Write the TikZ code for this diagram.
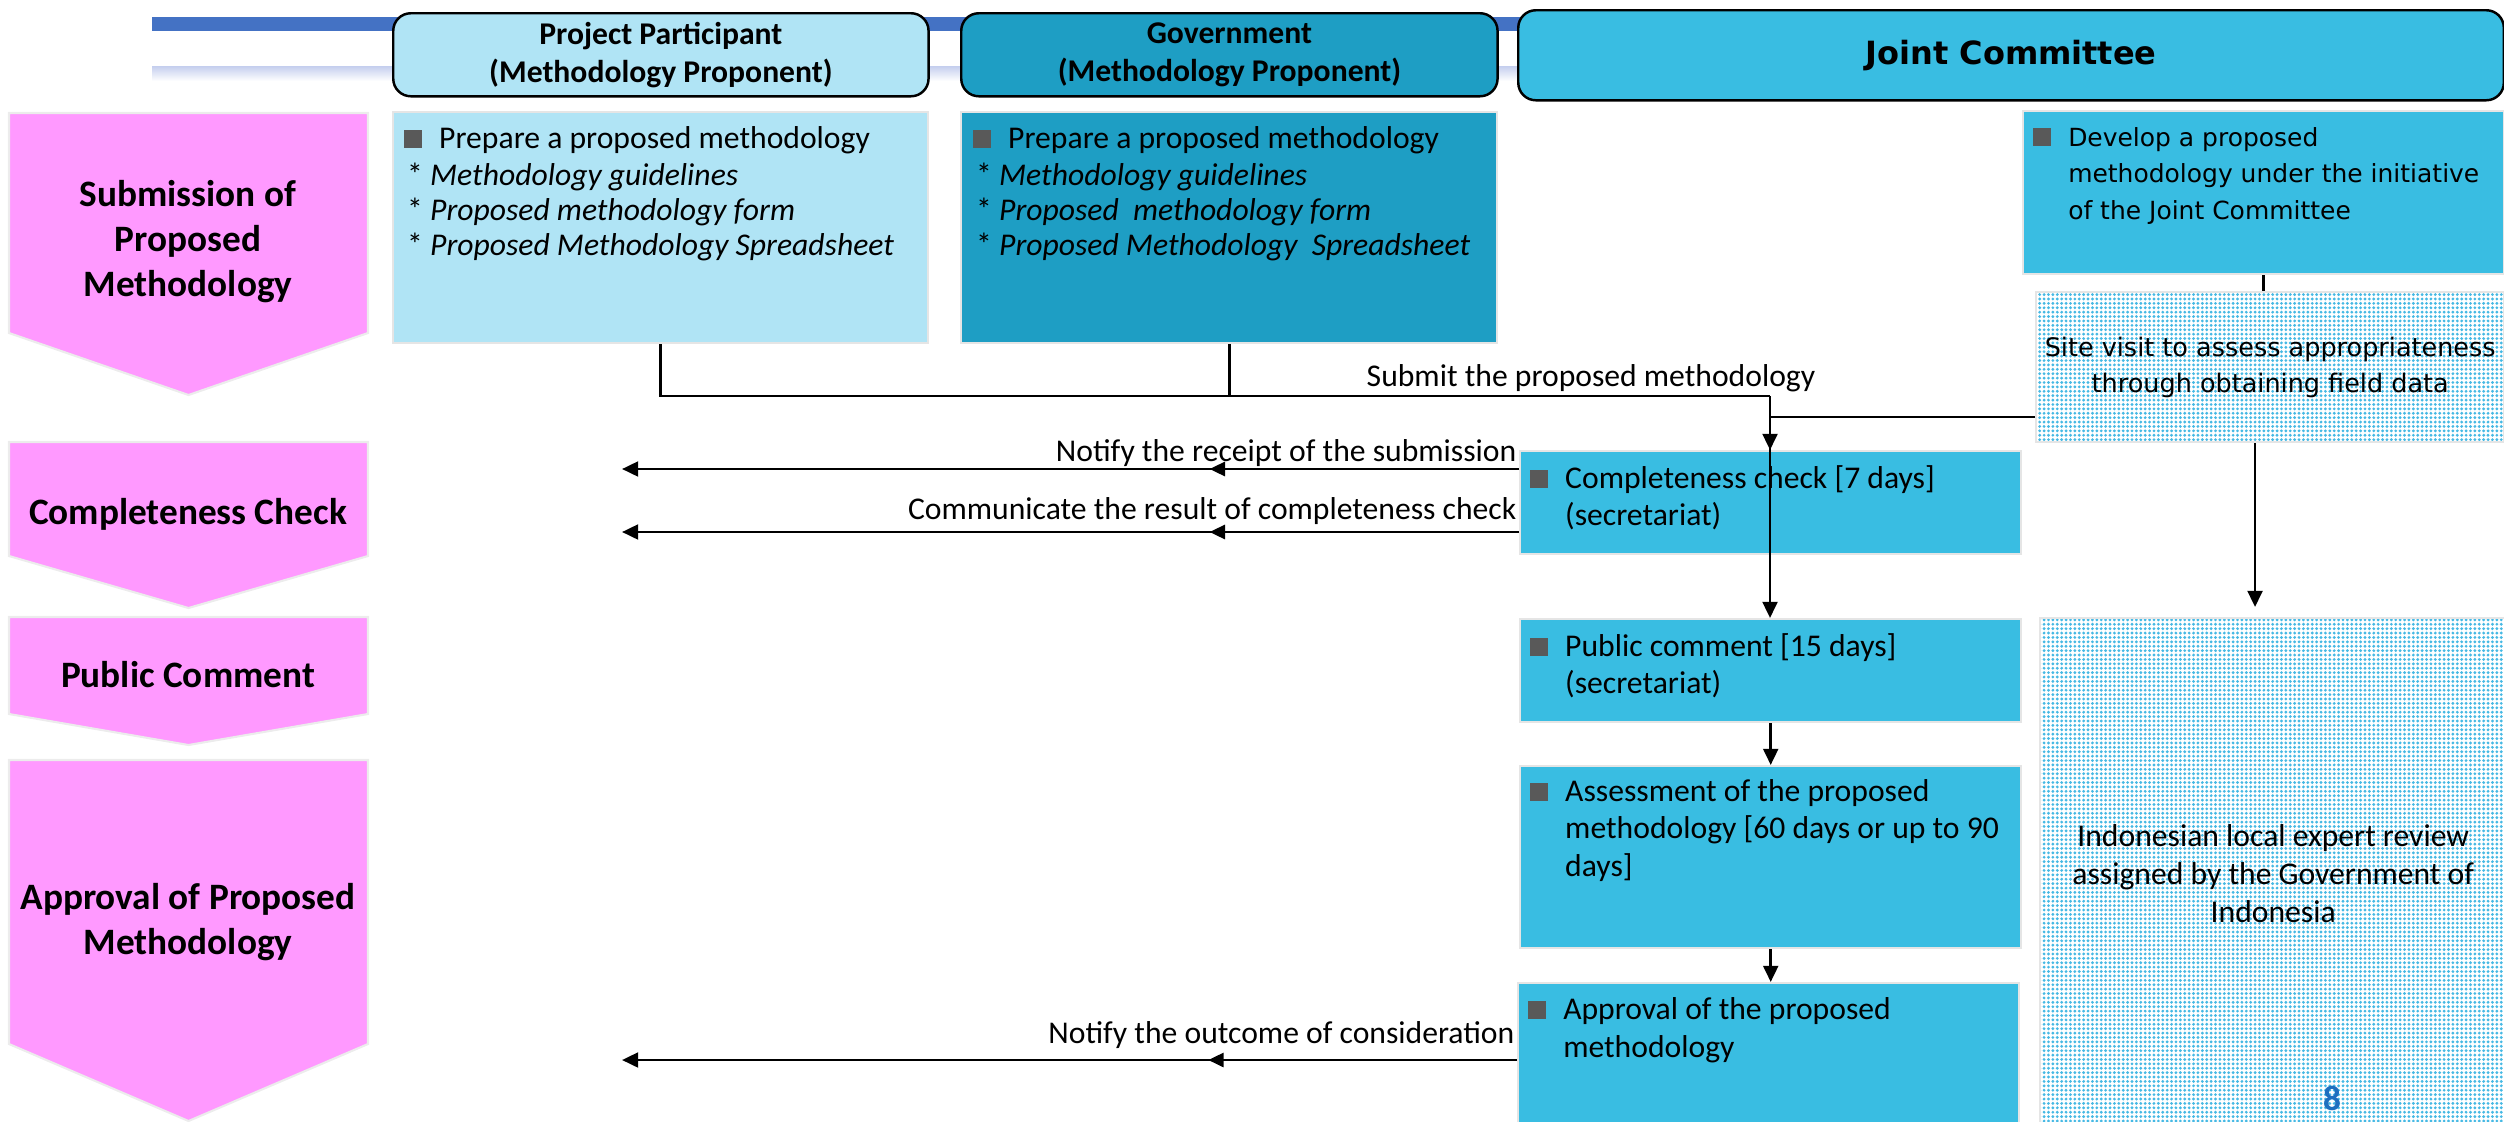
\documentclass[tikz,border=0pt]{standalone}
\usepackage{fontspec}
\setmainfont{Carlito}
\newfontfamily\widesans{DejaVu Sans}
\usetikzlibrary{arrows.meta,patterns,decorations.markings,positioning}

\definecolor{ppblue}{RGB}{176,228,245}
\definecolor{govblue}{RGB}{30,158,196}
\definecolor{jcblue}{RGB}{57,189,226}
\definecolor{stagepink}{RGB}{255,153,255}
\definecolor{barblue}{RGB}{68,114,196}
\definecolor{barlight}{RGB}{196,206,238}
\definecolor{bulletgrey}{RGB}{89,89,89}
\definecolor{dotblue}{RGB}{70,185,228}
\definecolor{pagenum}{RGB}{31,111,191}

\pgfdeclarepatternformonly{finedots}{\pgfqpoint{-0.5pt}{-0.5pt}}{\pgfqpoint{0.5pt}{0.5pt}}{\pgfqpoint{1.25pt}{1.25pt}}{\pgfpathcircle{\pgfqpoint{0pt}{0pt}}{0.45pt}\pgfusepath{fill}}

\newcommand{\sq}{\textcolor{bulletgrey}{\rule{5.1pt}{5.1pt}}\hspace{5pt}}

\tikzset{
  lanehead/.style={draw=black, line width=0.7pt, rounded corners=5pt, anchor=north west,
    font=\bfseries\fontsize{9}{10.8}\selectfont, align=center, inner sep=0pt},
  lanebox/.style={draw=gray!20, line width=0.6pt, inner sep=0pt, anchor=north west},
  dotbox/.style={lanebox, preaction={fill=white}, pattern=finedots, pattern color=dotblue},
  stageshape/.style={fill=stagepink, draw=gray!15, line width=0.6pt},
  stagelbl/.style={font=\bfseries\fontsize{10.6}{12.8}\selectfont, align=center},
  boxtext/.style={anchor=base west, inner sep=0pt, font=\fontsize{9}{10.8}\selectfont},
  msgtext/.style={anchor=base east, inner sep=0pt, font=\fontsize{9}{10.8}\selectfont},
  conn/.style={line width=0.8pt},
  arrowed/.style={conn, -{Triangle[length=4.6pt,width=4.2pt]}},
  midtip/.style={postaction={decorate}, decoration={markings,
    mark=at position #1 with {\arrow{Triangle[length=4.4pt,width=4pt]}}}}
}

\begin{document}
\begin{tikzpicture}[x=0.01cm,y=-0.01cm]
\useasboundingbox (0,0) rectangle (2504,1121);

% title bars
\fill[barblue] (152,17) rectangle (2460,31);
\shade[top color=barlight, bottom color=white] (152,66) rectangle (2460,81);

% lane headers
\node[lanehead, fill=ppblue, minimum width=5.35cm, minimum height=0.83cm] (ppHead) at (392,12) {Project Participant\\(Methodology Proponent)};
\node[lanehead, fill=govblue, minimum width=5.36cm, minimum height=0.83cm] (govHead) at (960,12) {Government\\(Methodology Proponent)};
\node[lanehead, fill=jcblue, minimum width=9.85cm, minimum height=0.9cm, font=\widesans\bfseries\fontsize{9.1}{11}\selectfont] (jcHead) at (1517,9) {Joint Committee};

% stages
\draw[stageshape] (9,113) -- (368,113) -- (368,333) -- (188.5,395) -- (9,333) -- cycle;
\node[stagelbl] (subStage) at (188,242) {Submission of\\Proposed\\Methodology};
\draw[stageshape] (9,442) -- (368,442) -- (368,556) -- (188.5,608) -- (9,556) -- cycle;
\node[stagelbl] (chkStage) at (188,514) {Completeness Check};
\draw[stageshape] (9,617) -- (368,617) -- (368,714) -- (188.5,745) -- (9,714) -- cycle;
\node[stagelbl] (pubStage) at (188,675) {Public Comment};
\draw[stageshape] (9,760) -- (368,760) -- (368,1044) -- (188.5,1121) -- (9,1044) -- cycle;
\node[stagelbl] (aprStage) at (188,922) {Approval of Proposed\\Methodology};

% boxes
\node[lanebox, fill=ppblue, minimum width=5.35cm, minimum height=2.31cm] (ppBox) at (392,111) {};
\node[lanebox, fill=govblue, minimum width=5.36cm, minimum height=2.31cm] (govBox) at (960,111) {};
\node[lanebox, fill=jcblue, minimum width=4.81cm, minimum height=1.63cm] (devBox) at (2022,110) {};
\node[dotbox, minimum width=4.68cm, minimum height=1.5cm] (siteBox) at (2035,291) {};
\node[lanebox, fill=jcblue, minimum width=5.01cm, minimum height=1.03cm] (ccBox) at (1519,450) {};
\node[lanebox, fill=jcblue, minimum width=5.01cm, minimum height=1.03cm] (pcBox) at (1519,618) {};
\node[lanebox, fill=jcblue, minimum width=5.01cm, minimum height=1.82cm] (asBox) at (1519,765) {};
\node[lanebox, fill=jcblue, minimum width=5.01cm, minimum height=1.5cm] (apBox) at (1517,982) {};
\node[dotbox, minimum width=4.66cm, minimum height=5.1cm] (expBox) at (2039,617) {};

% box texts
\node[boxtext] (ppText) at (403,148) {\parbox[t]{5.1cm}{\fontsize{9}{10}\selectfont\sq Prepare a proposed methodology\\[0.6pt]
  \hspace*{1pt}* \textit{Methodology guidelines}\\
  \hspace*{1pt}* \textit{Proposed methodology form}\\
  \hspace*{1pt}* \textit{Proposed Methodology Spreadsheet}}};
\node[boxtext] (govText) at (972,148) {\parbox[t]{5.1cm}{\fontsize{9}{10}\selectfont\sq Prepare a proposed methodology\\[0.6pt]
  \hspace*{1pt}* \textit{Methodology guidelines}\\
  \hspace*{1pt}* \textit{Proposed\ \ methodology form}\\
  \hspace*{1pt}* \textit{Proposed Methodology\ \ Spreadsheet}}};
\node[boxtext, font=\widesans\fontsize{7.1}{10.5}\selectfont] (devText) at (2032,146) {\sq\parbox[t]{4.4cm}{Develop a proposed\\methodology under the initiative\\of the Joint Committee}};
\node[font=\widesans\fontsize{7.25}{10.2}\selectfont, align=center] (siteText) at (siteBox.center) {Site visit to assess appropriateness\\through obtaining field data};
\node[boxtext] (ccText) at (1529,488) {\sq\parbox[t]{4.5cm}{Completeness check [7 days]\\(secretariat)}};
\node[boxtext] (pcText) at (1529,656) {\sq\parbox[t]{4.5cm}{Public comment [15 days]\\(secretariat)}};
\node[boxtext] (asText) at (1529,801) {\sq\parbox[t]{4.5cm}{Assessment of the proposed\\methodology [60 days or up to 90\\days]}};
\node[boxtext] (apText) at (1527,1019) {\sq\parbox[t]{4.5cm}{Approval of the proposed\\methodology}};
\node[font=\fontsize{9}{10.8}\selectfont, align=center] (expText) at (expBox.center) {Indonesian local expert review\\assigned by the Government of\\Indonesia};
\node[font=\bfseries\fontsize{10}{12}\selectfont, text=pagenum] (pageNo) at (2332,1098) {8};

% submission flow
\coordinate (subJoin) at (1770,396);
\coordinate (siteJoin) at (1770,417);
\draw[conn] (ppBox.south) |- (subJoin);
\draw[conn] (govBox.south) -- (govBox.south |- subJoin);
\node[msgtext, anchor=base] (subLbl) at (1591,386) {Submit the proposed methodology};
\draw[conn] (devBox.south) -- (devBox.south |- siteBox.north);
\draw[conn] (siteBox.west |- siteJoin) -- (siteJoin);
\draw[arrowed] (subJoin) -- (ccBox.north -| subJoin);
\draw[arrowed] (subJoin) -- (pcBox.north -| subJoin);
\draw[arrowed] (pcBox.south) -- (asBox.north);
\draw[arrowed] (asBox.south) -- (asBox.south |- apBox.north);
\coordinate (expTop) at (2255,607);
\draw[arrowed] (siteBox.south -| expTop) -- (expTop);

% messages back to the proponent
\coordinate (notifyEnd) at (622,469);
\coordinate (resultEnd) at (622,532);
\coordinate (outcomeEnd) at (622,1060);
\draw[arrowed, midtip=0.345] (ccBox.west |- notifyEnd) -- (notifyEnd);
\node[msgtext] (notifyLbl) at (1517,461) {Notify the receipt of the submission};
\draw[arrowed, midtip=0.345] (ccBox.west |- resultEnd) -- (resultEnd);
\node[msgtext] (resultLbl) at (1517,519) {Communicate the result of completeness check};
\draw[arrowed, midtip=0.345] (apBox.west |- outcomeEnd) -- (outcomeEnd);
\node[msgtext] (outcomeLbl) at (1515,1043) {Notify the outcome of consideration};
\end{tikzpicture}
\end{document}
